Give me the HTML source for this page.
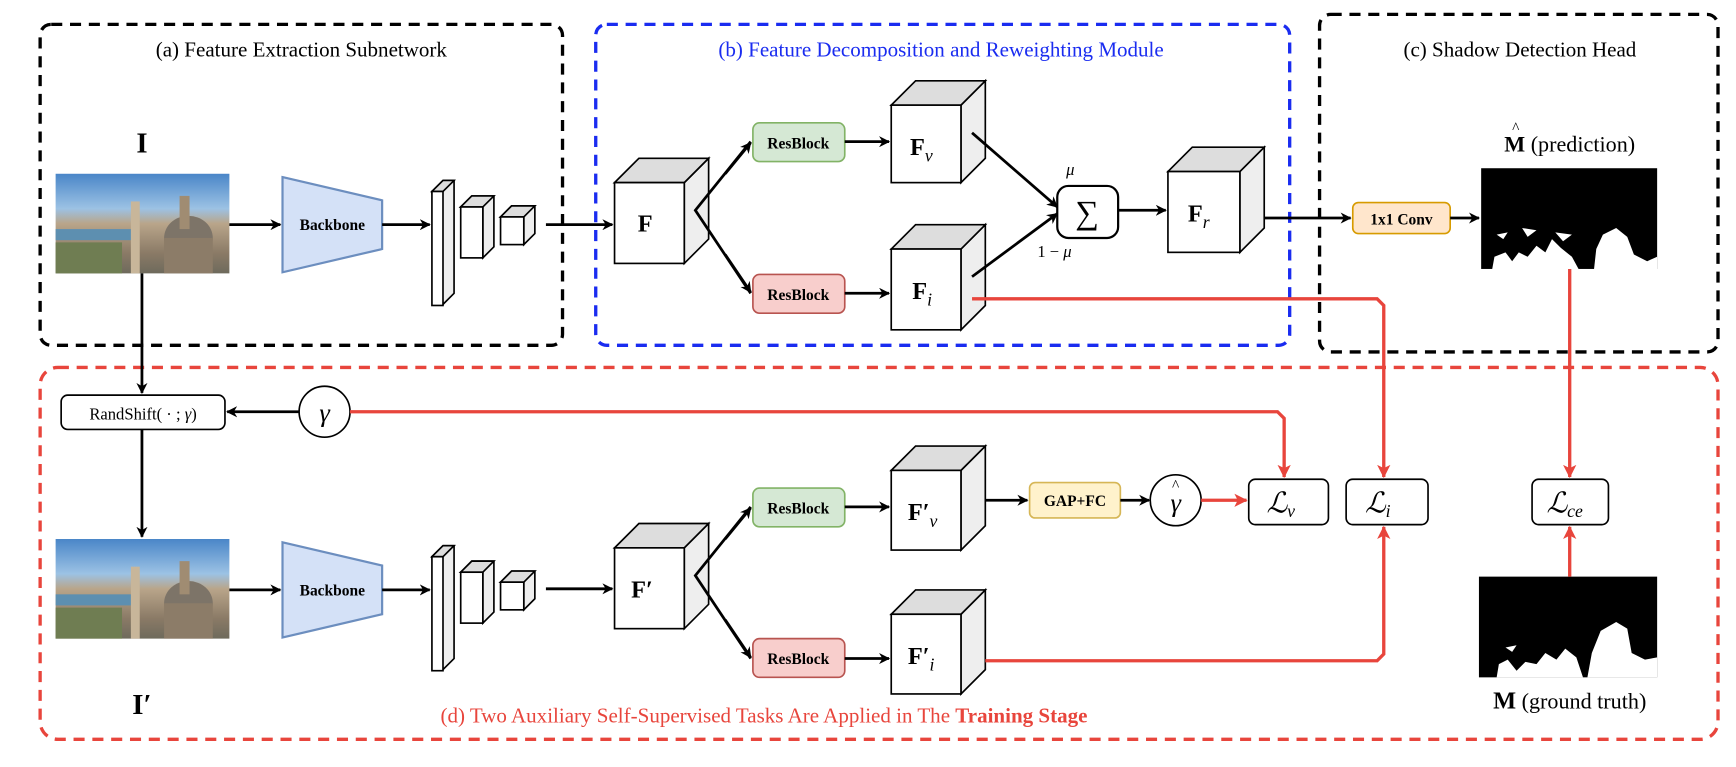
<!DOCTYPE html>
<html><head><meta charset="utf-8"><style>
html,body{margin:0;padding:0;background:#fff;}
svg{display:block;}
text{font-family:"Liberation Serif",serif;}
</style></head><body>
<svg width="1736" height="767" viewBox="0 0 1568 693" xmlns="http://www.w3.org/2000/svg">
<defs>
<marker id="ab" markerWidth="10" markerHeight="10" refX="9" refY="5" orient="auto" markerUnits="userSpaceOnUse"><path d="M0,0 L10,5 L0,10 L3,5 z" fill="#000"/></marker>
<marker id="ar" markerWidth="12" markerHeight="12" refX="11" refY="6" orient="auto" markerUnits="userSpaceOnUse"><path d="M0,0 L12,6 L0,12 L3,6 z" fill="#e8453c"/></marker>
<linearGradient id="img" x1="0" y1="0" x2="0" y2="1">
<stop offset="0" stop-color="#4a86c8"/><stop offset="0.35" stop-color="#9cc2e4"/><stop offset="0.5" stop-color="#b9a58a"/><stop offset="0.8" stop-color="#8a7a66"/><stop offset="1" stop-color="#6e6a5c"/></linearGradient>
<g id="photo">
<rect x="0" y="0" width="157" height="90" fill="url(#img)"/>
<rect x="0" y="50" width="70" height="10" fill="#5d8fb0"/>
<ellipse cx="120" cy="58" rx="22" ry="20" fill="#7d7468"/>
<rect x="98" y="58" width="44" height="32" fill="#8c7c68"/>
<rect x="112" y="20" width="9" height="30" fill="#a08c72"/>
<rect x="68" y="25" width="8" height="65" fill="#c8b69a"/>
<rect x="0" y="62" width="60" height="28" fill="#6f7d52"/>
</g>
<g id="stack">
<path d="M0,-30 L10,-40 L20,-40 L20,62 L10,72 z" fill="#eee" stroke="#000" stroke-width="1.5"/>
<path d="M0,-30 L10,-40 L20,-40 L10,-30 z" fill="#ddd" stroke="#000" stroke-width="1.5"/>
<rect x="0" y="-30" width="10" height="103" fill="#fff" stroke="#000" stroke-width="1.5"/>
<path d="M26,-16 L36,-26 L56,-26 L56,20 L46,30 L46,-16 z" fill="#eee" stroke="#000" stroke-width="1.5"/>
<path d="M26,-16 L36,-26 L56,-26 L46,-16 z" fill="#ddd" stroke="#000" stroke-width="1.5"/>
<rect x="26" y="-16" width="20" height="46" fill="#fff" stroke="#000" stroke-width="1.5"/>
<path d="M62,-7 L72,-17 L93,-17 L93,8 L83,18 L83,-7 z" fill="#eee" stroke="#000" stroke-width="1.5"/>
<path d="M62,-7 L72,-17 L93,-17 L83,-7 z" fill="#ddd" stroke="#000" stroke-width="1.5"/>
<rect x="62" y="-7" width="21" height="25" fill="#fff" stroke="#000" stroke-width="1.5"/>
</g>
</defs>

<rect x="36" y="22" width="472" height="290" rx="10" fill="none" stroke="#000" stroke-width="3" stroke-dasharray="10,7"/>
<rect x="538" y="22" width="627" height="290" rx="10" fill="none" stroke="#1a2cf0" stroke-width="3" stroke-dasharray="10,7"/>
<rect x="1192" y="13" width="360" height="305" rx="10" fill="none" stroke="#000" stroke-width="3" stroke-dasharray="10,7"/>
<rect x="36" y="332" width="1516" height="336" rx="16" fill="none" stroke="#e8453c" stroke-width="3" stroke-dasharray="10,7"/>

<text x="272" y="51" font-size="19" text-anchor="middle">(a) Feature Extraction Subnetwork</text>
<text x="850" y="51" font-size="19" text-anchor="middle" fill="#1a2cf0">(b) Feature Decomposition and Reweighting Module</text>
<text x="1373" y="51" font-size="19" text-anchor="middle">(c) Shadow Detection Head</text>
<text x="690" y="653" font-size="19" text-anchor="middle" fill="#e8453c">(d) Two Auxiliary Self-Supervised Tasks Are Applied in The <tspan font-weight="bold">Training Stage</tspan></text>

<text x="128" y="138" font-size="26" font-weight="bold" text-anchor="middle">I</text>
<use href="#photo" x="50" y="157"/>
<line x1="207" y1="203" x2="253" y2="203" stroke="#000" stroke-width="2.5" marker-end="url(#ab)"/>
<path d="M255,160 L345,181 L345,225 L255,246 z" fill="#d4e1f7" stroke="#6c8ebf" stroke-width="2"/>
<text x="300" y="208" font-size="14" font-weight="bold" text-anchor="middle">Backbone</text>
<line x1="345" y1="203" x2="388" y2="203" stroke="#000" stroke-width="2.5" marker-end="url(#ab)"/>
<use href="#stack" x="390" y="203"/>
<line x1="493" y1="203" x2="553" y2="203" stroke="#000" stroke-width="2.5" marker-end="url(#ab)"/>

<g stroke="#000" stroke-width="1.5">
<path d="M618,165 L640,143 L640,216 L618,238 z" fill="#eee"/><path d="M555,165 L577,143 L640,143 L618,165 z" fill="#ddd"/><rect x="555" y="165" width="63" height="73" fill="#fff"/>
<path d="M868,95 L890,73 L890,143 L868,165 z" fill="#eee"/><path d="M805,95 L827,73 L890,73 L868,95 z" fill="#ddd"/><rect x="805" y="95" width="63" height="70" fill="#fff"/>
<path d="M868,225 L890,203 L890,276 L868,298 z" fill="#eee"/><path d="M805,225 L827,203 L890,203 L868,225 z" fill="#ddd"/><rect x="805" y="225" width="63" height="73" fill="#fff"/>
<path d="M1120,155 L1142,133 L1142,206 L1120,228 z" fill="#eee"/><path d="M1055,155 L1077,133 L1142,133 L1120,155 z" fill="#ddd"/><rect x="1055" y="155" width="65" height="73" fill="#fff"/>
<path d="M618,495 L640,473 L640,546 L618,568 z" fill="#eee"/><path d="M555,495 L577,473 L640,473 L618,495 z" fill="#ddd"/><rect x="555" y="495" width="63" height="73" fill="#fff"/>
<path d="M868,425 L890,403 L890,475 L868,497 z" fill="#eee"/><path d="M805,425 L827,403 L890,403 L868,425 z" fill="#ddd"/><rect x="805" y="425" width="63" height="72" fill="#fff"/>
<path d="M868,555 L890,533 L890,605 L868,627 z" fill="#eee"/><path d="M805,555 L827,533 L890,533 L868,555 z" fill="#ddd"/><rect x="805" y="555" width="63" height="72" fill="#fff"/>
</g>
<g font-size="22" font-weight="bold">
<text x="576" y="209">F</text>
<text x="822" y="140">F<tspan font-size="16" font-style="italic" font-weight="normal" dy="6">v</tspan></text>
<text x="824" y="270">F<tspan font-size="16" font-style="italic" font-weight="normal" dy="6">i</tspan></text>
<text x="1073" y="200">F<tspan font-size="16" font-style="italic" font-weight="normal" dy="6">r</tspan></text>
<text x="570" y="540">F′</text>
<text x="820" y="470">F′<tspan font-size="16" font-style="italic" font-weight="normal" dy="6">v</tspan></text>
<text x="820" y="600">F′<tspan font-size="16" font-style="italic" font-weight="normal" dy="6">i</tspan></text>
</g>

<polyline points="678,128 628,190 678,265" fill="none" stroke="#000" stroke-width="2.5"/>
<line x1="655" y1="157" x2="678" y2="129" stroke="#000" stroke-width="2.5" marker-end="url(#ab)"/>
<line x1="655" y1="230" x2="678" y2="264" stroke="#000" stroke-width="2.5" marker-end="url(#ab)"/>
<rect x="680" y="111" width="83" height="35" rx="6" fill="#d5e8d4" stroke="#82b366" stroke-width="1.5"/>
<text x="721" y="134" font-size="14" font-weight="bold" text-anchor="middle">ResBlock</text>
<rect x="680" y="248" width="83" height="35" rx="6" fill="#f8cecc" stroke="#b85450" stroke-width="1.5"/>
<text x="721" y="271" font-size="14" font-weight="bold" text-anchor="middle">ResBlock</text>
<line x1="763" y1="128" x2="803" y2="128" stroke="#000" stroke-width="2.5" marker-end="url(#ab)"/>
<line x1="763" y1="265" x2="803" y2="265" stroke="#000" stroke-width="2.5" marker-end="url(#ab)"/>
<line x1="878" y1="120" x2="955" y2="187" stroke="#000" stroke-width="2.5" marker-end="url(#ab)"/>
<line x1="878" y1="250" x2="955" y2="193" stroke="#000" stroke-width="2.5" marker-end="url(#ab)"/>
<rect x="955" y="168" width="55" height="47" rx="10" fill="#fff" stroke="#000" stroke-width="2"/>
<text x="982" y="202" font-size="30" text-anchor="middle">∑</text>
<text x="963" y="158" font-size="15" font-style="italic">μ</text>
<text x="937" y="232" font-size="15">1 − <tspan font-style="italic">μ</tspan></text>
<line x1="1010" y1="190" x2="1053" y2="190" stroke="#000" stroke-width="2.5" marker-end="url(#ab)"/>
<line x1="1142" y1="197" x2="1220" y2="197" stroke="#000" stroke-width="2.5" marker-end="url(#ab)"/>
<rect x="1222" y="183" width="88" height="28" rx="5" fill="#ffe6cc" stroke="#d79b00" stroke-width="1.5"/>
<text x="1266" y="203" font-size="14" font-weight="bold" text-anchor="middle">1x1 Conv</text>
<line x1="1310" y1="197" x2="1336" y2="197" stroke="#000" stroke-width="2.5" marker-end="url(#ab)"/>
<text x="1418" y="137" font-size="20" text-anchor="middle"><tspan font-weight="bold">M</tspan> (prediction)</text>
<text x="1366" y="120" font-size="14">^</text>
<rect x="1338" y="152" width="159" height="91" fill="#000"/>
<g fill="#fff">
<path d="M1348,243 L1350,232 L1360,228 L1366,236 L1372,228 L1380,232 L1388,222 L1396,228 L1402,216 L1410,224 L1420,232 L1426,243 z"/>
<path d="M1440,243 L1442,225 L1448,212 L1460,206 L1470,214 L1476,230 L1488,236 L1497,232 L1497,243 z"/>
<path d="M1352,212 L1362,210 L1358,216 z M1375,206 L1388,208 L1380,214 z M1405,210 L1420,212 L1412,218 z"/>
</g>

<polyline points="878,270 1244,270 1250,276 1250,431" fill="none" stroke="#e8453c" stroke-width="3" marker-end="url(#ar)"/>
<line x1="1418" y1="243" x2="1418" y2="431" stroke="#e8453c" stroke-width="3" marker-end="url(#ar)"/>

<line x1="128" y1="247" x2="128" y2="355" stroke="#000" stroke-width="2.5" marker-end="url(#ab)"/>
<rect x="55" y="357" width="148" height="31" rx="6" fill="#fff" stroke="#000" stroke-width="1.5"/>
<text x="129" y="379" font-size="15" text-anchor="middle">RandShift( · ; <tspan font-style="italic">γ</tspan>)</text>
<circle cx="293" cy="372" r="23" fill="#fff" stroke="#000" stroke-width="1.5"/>
<text x="293" y="381" font-size="24" font-style="italic" text-anchor="middle">γ</text>
<line x1="270" y1="372" x2="205" y2="372" stroke="#000" stroke-width="2.5" marker-end="url(#ab)"/>
<polyline points="316,372 1154,372 1160,378 1160,431" fill="none" stroke="#e8453c" stroke-width="3" marker-end="url(#ar)"/>
<line x1="128" y1="388" x2="128" y2="485" stroke="#000" stroke-width="2.5" marker-end="url(#ab)"/>
<use href="#photo" x="50" y="487"/>
<text x="128" y="645" font-size="26" font-weight="bold" text-anchor="middle">I′</text>
<line x1="207" y1="533" x2="253" y2="533" stroke="#000" stroke-width="2.5" marker-end="url(#ab)"/>
<path d="M255,490 L345,511 L345,555 L255,576 z" fill="#d4e1f7" stroke="#6c8ebf" stroke-width="2"/>
<text x="300" y="538" font-size="14" font-weight="bold" text-anchor="middle">Backbone</text>
<line x1="345" y1="533" x2="388" y2="533" stroke="#000" stroke-width="2.5" marker-end="url(#ab)"/>
<use href="#stack" x="390" y="533"/>
<line x1="493" y1="532" x2="553" y2="532" stroke="#000" stroke-width="2.5" marker-end="url(#ab)"/>

<polyline points="678,458 628,520 678,595" fill="none" stroke="#000" stroke-width="2.5"/>
<line x1="655" y1="487" x2="678" y2="459" stroke="#000" stroke-width="2.5" marker-end="url(#ab)"/>
<line x1="655" y1="560" x2="678" y2="594" stroke="#000" stroke-width="2.5" marker-end="url(#ab)"/>
<rect x="680" y="441" width="83" height="35" rx="6" fill="#d5e8d4" stroke="#82b366" stroke-width="1.5"/>
<text x="721" y="464" font-size="14" font-weight="bold" text-anchor="middle">ResBlock</text>
<rect x="680" y="577" width="83" height="35" rx="6" fill="#f8cecc" stroke="#b85450" stroke-width="1.5"/>
<text x="721" y="600" font-size="14" font-weight="bold" text-anchor="middle">ResBlock</text>
<line x1="763" y1="458" x2="803" y2="458" stroke="#000" stroke-width="2.5" marker-end="url(#ab)"/>
<line x1="763" y1="595" x2="803" y2="595" stroke="#000" stroke-width="2.5" marker-end="url(#ab)"/>
<line x1="890" y1="452" x2="928" y2="452" stroke="#000" stroke-width="2.5" marker-end="url(#ab)"/>
<rect x="930" y="436" width="82" height="32" rx="5" fill="#fff2cc" stroke="#d6b656" stroke-width="1.5"/>
<text x="971" y="457" font-size="14" font-weight="bold" text-anchor="middle">GAP+FC</text>
<line x1="1012" y1="452" x2="1038" y2="452" stroke="#000" stroke-width="2.5" marker-end="url(#ab)"/>
<circle cx="1062" cy="452" r="23" fill="#fff" stroke="#000" stroke-width="1.5"/>
<text x="1062" y="462" font-size="24" font-style="italic" text-anchor="middle">γ</text>
<text x="1062" y="443" font-size="14" text-anchor="middle">^</text>
<line x1="1085" y1="452" x2="1126" y2="452" stroke="#e8453c" stroke-width="3" marker-end="url(#ar)"/>
<polyline points="890,597 1244,597 1250,591 1250,476" fill="none" stroke="#e8453c" stroke-width="3" marker-end="url(#ar)"/>

<g fill="#fff" stroke="#000" stroke-width="1.5">
<rect x="1128" y="433" width="72" height="41" rx="6"/>
<rect x="1216" y="433" width="74" height="41" rx="6"/>
<rect x="1384" y="433" width="69" height="41" rx="6"/>
</g>
<g font-size="26" font-style="italic">
<text x="1144" y="463">ℒ<tspan font-size="16" dy="4">v</tspan></text>
<text x="1233" y="463">ℒ<tspan font-size="16" dy="4">i</tspan></text>
<text x="1397" y="463">ℒ<tspan font-size="16" dy="4">ce</tspan></text>
</g>

<rect x="1336" y="521" width="161" height="91" fill="#000"/>
<g fill="#fff">
<path d="M1352,612 L1354,600 L1362,596 L1370,606 L1378,598 L1388,600 L1396,590 L1406,596 L1414,586 L1424,594 L1430,612 z"/>
<path d="M1434,612 L1438,590 L1446,570 L1460,562 L1470,568 L1474,590 L1486,596 L1497,594 L1497,612 z"/>
<path d="M1360,585 L1370,583 L1366,589 z"/>
</g>
<line x1="1418" y1="521" x2="1418" y2="476" stroke="#e8453c" stroke-width="3" marker-end="url(#ar)"/>
<text x="1418" y="640" font-size="20" text-anchor="middle"><tspan font-weight="bold" font-size="22">M</tspan> (ground truth)</text>
</svg>
</body></html>
